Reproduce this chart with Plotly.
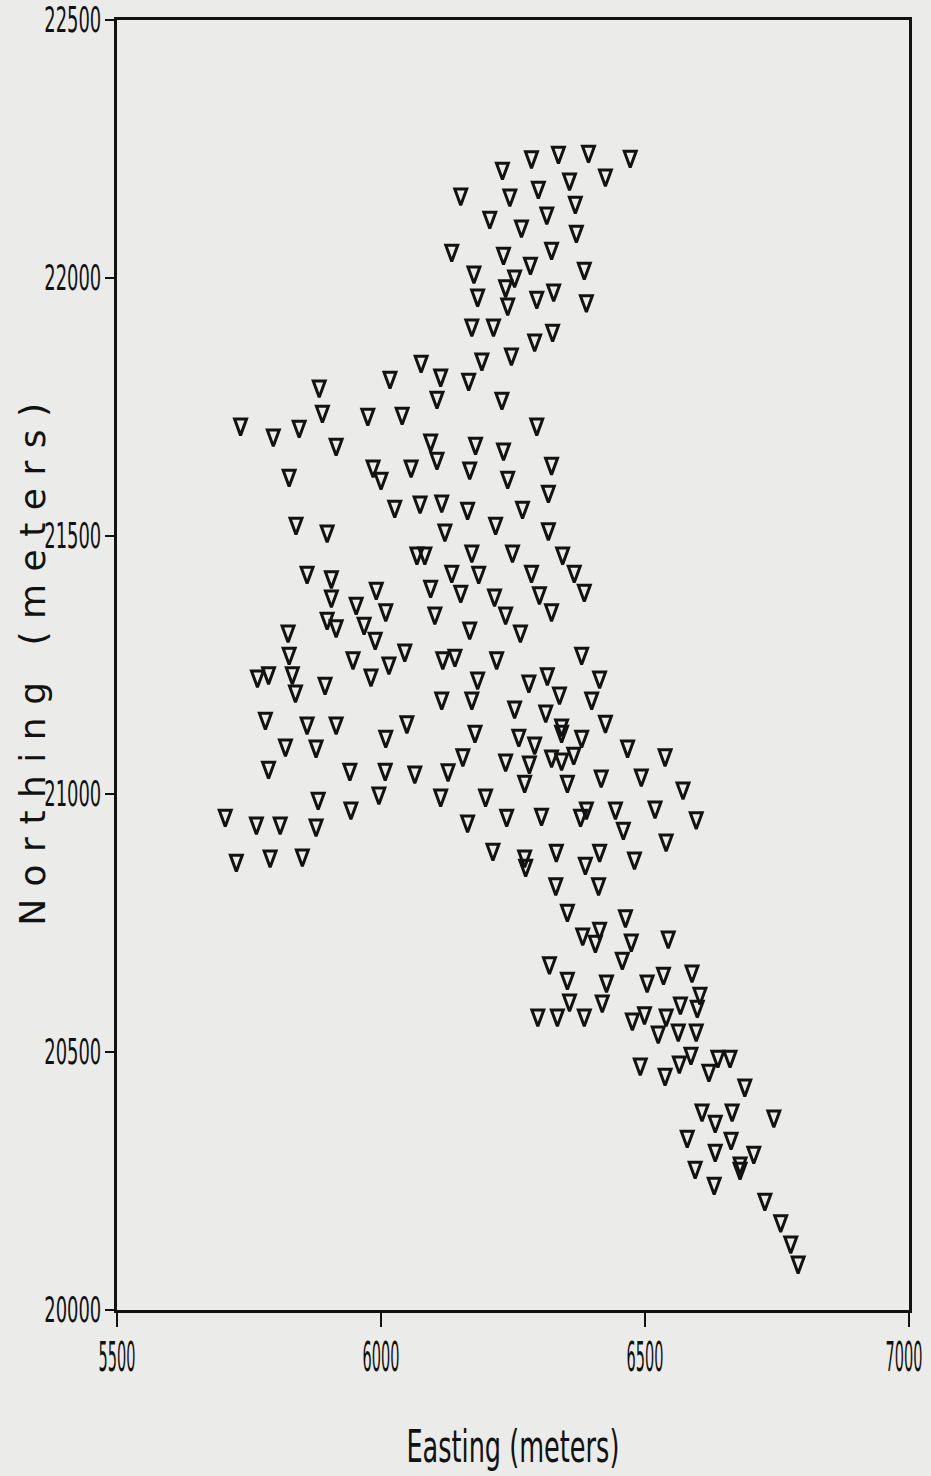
import plotly.graph_objects as go

# Station locations (metres)
easting = [
    6285, 6336, 6393, 6472, 6230, 6425, 6357, 6151, 6298, 6244,
    6368, 6314, 6206, 6266, 6370, 6323, 6134, 6232, 6283, 6385,
    6176, 6253, 6236, 6327, 6183, 6295, 6389, 6240, 6172, 6213,
    6325, 6291, 6247, 6191, 6076, 6017, 6113, 6166, 5883, 6106,
    6229, 5889, 5975, 6040, 5734, 5845, 6295, 5796, 6094, 6179,
    5915, 6232, 6106, 6323, 5985, 6057, 6168, 6000, 5826, 6240,
    6317, 6026, 6074, 6115, 6164, 6268, 5839, 5898, 6121, 6217,
    6317, 6068, 6083, 6172, 6249, 6344, 5860, 5906, 6134, 6185,
    6285, 6366, 5991, 6094, 6151, 6385, 6300, 6215, 5906, 5953,
    6009, 6236, 6102, 6323, 5898, 5915, 5968, 5989, 6168, 6264,
    5824, 5826, 5947, 6045, 6117, 6140, 6219, 6380, 6015, 5766,
    5787, 5832, 5981, 5894, 5838, 6183, 6315, 6280, 6414, 6115,
    6172, 6338, 6399, 5781, 5860, 5915, 6049, 6253, 6312, 6342,
    6342, 6425, 6178, 6009, 6261, 6380, 6291, 5819, 5877, 6467,
    6155, 6236, 6281, 6323, 6342, 6365, 6538, 5787, 5941, 6008,
    6064, 6127, 6272, 6353, 6417, 6493, 6572, 5881, 5996, 6113,
    6198, 5943, 5705, 5764, 5809, 5877, 6164, 6238, 6304, 6378,
    6389, 6444, 6459, 6519, 6597, 6540, 5726, 5790, 5851, 6212,
    6332, 6414, 6272, 6274, 6387, 6480, 6331, 6412, 6353, 6463,
    6382, 6414, 6406, 6474, 6544, 6319, 6457, 6353, 6427, 6504,
    6535, 6589, 6357, 6419, 6604, 6567, 6297, 6334, 6385, 6476,
    6499, 6540, 6599, 6525, 6563, 6597, 6587, 6638, 6661, 6491,
    6565, 6621, 6538, 6689, 6608, 6665, 6744, 6633, 6580, 6663,
    6633, 6706, 6680, 6680, 6595, 6631, 6727, 6757, 6776, 6790,
]

northing = [
    22234, 22243, 22245, 22235, 22212, 22199, 22191, 22162, 22175, 22160,
    22146, 22125, 22117, 22100, 22090, 22057, 22053, 22047, 22028, 22018,
    22011, 22003, 21984, 21976, 21966, 21962, 21955, 21949, 21908, 21908,
    21898, 21879, 21852, 21842, 21838, 21807, 21811, 21803, 21790, 21768,
    21766, 21741, 21735, 21737, 21716, 21712, 21716, 21695, 21685, 21679,
    21677, 21668, 21650, 21640, 21635, 21635, 21631, 21611, 21617, 21613,
    21586, 21557, 21565, 21567, 21553, 21555, 21524, 21509, 21511, 21524,
    21513, 21466, 21466, 21470, 21470, 21466, 21429, 21420, 21431, 21429,
    21431, 21431, 21398, 21402, 21392, 21394, 21389, 21385, 21383, 21369,
    21356, 21350, 21350, 21356, 21340, 21325, 21330, 21301, 21321, 21315,
    21315, 21272, 21263, 21278, 21263, 21268, 21263, 21272, 21253, 21228,
    21234, 21234, 21230, 21214, 21199, 21224, 21232, 21218, 21226, 21185,
    21185, 21195, 21185, 21146, 21137, 21137, 21139, 21168, 21160, 21133,
    21121, 21140, 21121, 21111, 21113, 21111, 21098, 21094, 21092, 21092,
    21075, 21065, 21061, 21073, 21067, 21078, 21075, 21051, 21047, 21047,
    21042, 21046, 21024, 21024, 21034, 21036, 21011, 20991, 21001, 20997,
    20997, 20972, 20958, 20943, 20943, 20939, 20947, 20958, 20960, 20958,
    20972, 20972, 20933, 20974, 20953, 20910, 20871, 20879, 20881, 20892,
    20890, 20890, 20879, 20861, 20865, 20875, 20825, 20825, 20774, 20763,
    20728, 20739, 20714, 20716, 20722, 20672, 20681, 20642, 20637, 20637,
    20652, 20656, 20600, 20598, 20613, 20594, 20571, 20571, 20571, 20563,
    20575, 20571, 20588, 20538, 20542, 20542, 20497, 20491, 20491, 20476,
    20480, 20464, 20456, 20435, 20387, 20387, 20375, 20365, 20336, 20332,
    20309, 20305, 20284, 20274, 20276, 20245, 20214, 20172, 20131, 20092,
]

x_ticks = [5500, 6000, 6500, 7000]
y_ticks = [20000, 20500, 21000, 21500, 22000, 22500]

x_title = "Easting (meters)"
y_title = "Northing (meters)"

paper = "#ebebe9"
ink = "#121212"
narrow = "DejaVu Sans Condensed, Liberation Sans Narrow, sans-serif"

fig = go.Figure(
    go.Scatter(
        x=easting,
        y=northing,
        mode="markers",
        marker=dict(
            symbol="triangle-down-open",
            size=14,
            color=ink,
            line=dict(width=3, color=ink),
        ),
        hoverinfo="x+y",
    )
)

axis_common = dict(
    showgrid=False,
    zeroline=False,
    showline=True,
    mirror=True,
    linecolor=ink,
    linewidth=2.5,
    ticks="outside",
    tickcolor=ink,
    tickwidth=2,
    ticklabeloverflow="allow",
    automargin=False,
)

fig.update_xaxes(
    range=[5500, 7000],
    tickvals=x_ticks,
    ticktext=[str(v) for v in x_ticks],
    ticklen=14,
    ticklabelstandoff=-4,
    tickfont=dict(family=narrow, size=40, color=ink),
    **axis_common,
)
fig.update_yaxes(
    range=[20000, 22500],
    tickvals=y_ticks,
    ticktext=[str(v) for v in y_ticks],
    ticklen=9,
    ticklabelstandoff=-3,
    tickfont=dict(family=narrow, size=35, color=ink),
    **axis_common,
)

fig.add_annotation(
    text=x_title,
    xref="paper", yref="paper",
    x=0.5, y=-0.106,
    xanchor="center", yanchor="middle",
    showarrow=False,
    font=dict(family=narrow, size=44, color=ink),
)
fig.add_annotation(
    text=y_title,
    xref="paper", yref="paper",
    x=-0.106, y=0.505,
    xanchor="center", yanchor="middle",
    textangle=-90,
    showarrow=False,
    font=dict(family="DejaVu Sans", size=36, color=ink),
)

fig.update_layout(
    width=931,
    height=1476,
    autosize=False,
    margin=dict(l=117, r=22, t=20, b=166, autoexpand=False),
    paper_bgcolor=paper,
    plot_bgcolor=paper,
    showlegend=False,
)

# Typography and marker shape: narrow, tall digits and titles; slim tall
# triangles with an even stroke; wide letter spacing on the northing label.
finish_js = """
(function () {
  function squeeze(sel, perChar) {
    document.querySelectorAll(sel).forEach(function (t) {
      var n = t.textContent.length;
      t.setAttribute('textLength', (n * perChar).toFixed(1));
      t.setAttribute('lengthAdjust', 'spacingAndGlyphs');
    });
  }
  squeeze('.xtick text', 9.2);
  squeeze('.ytick text', 11.4);
  // keep the last easting label inside the page edge
  var xt = document.querySelectorAll('.xtick text');
  if (xt.length) { xt[xt.length - 1].setAttribute('dx', '-5'); }
  document.querySelectorAll('.annotation-text').forEach(function (t) {
    var s = t.textContent;
    if (s.indexOf('Northing') === 0) {
      t.style.letterSpacing = '12.5px';
    } else if (s.indexOf('Easting') === 0) {
      t.setAttribute('textLength', '213');
      t.setAttribute('lengthAdjust', 'spacingAndGlyphs');
    }
  });
  document.querySelectorAll('.scatterlayer path.point').forEach(function (p) {
    var tr = p.getAttribute('transform') || '';
    p.setAttribute('transform', tr + ' scale(0.74,1.55)');
    p.style.vectorEffect = 'non-scaling-stroke';
  });
})();
"""

fig.write_html("out.html", post_script=finish_js)
